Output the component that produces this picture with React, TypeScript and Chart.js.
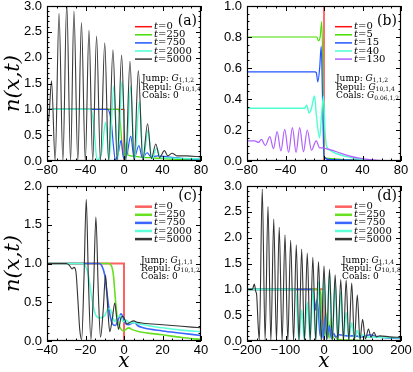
import React, { useEffect, useRef } from 'react';
import { Chart, registerables } from 'chart.js';
Chart.register(...registerables);

// ---------- data (x, n) ----------
const legendTop = ['0', '250', '750', '2000', '5000'];
const legendB = ['0', '5', '15', '40', '130'];

const aT0 = [[-80, 1], [0, 1], [0, 0], [80, 0]];
const aT250 = [[-80, 1], [-6, 1], [-4.5, 0.9], [-3, 0.55], [-1.5, 0.2], [0, 0.1], [1.5, 0.2], [2.8, 0.35], [4.2, 0.12], [7, 0.1], [12, 0.09], [20, 0.07], [30, 0.06], [45, 0.04], [60, 0.03], [80, 0.02]];
const aT750 = [[-80, 1], [-17, 1], [-14.5, 0.9], [-13, 0.72], [-11, 0.3], [-9, 0.02], [-6, 0.15], [-3, 0.4], [-0.5, 0.05], [3, 0.12], [7, 0.48], [10.5, 0.05], [15.5, 0.3], [19, 0.06], [24, 0.16], [28, 0.08], [35, 0.1], [45, 0.08], [60, 0.05], [80, 0.03]];
const aT2000 = [[-80, 1], [-34, 1], [-31, 0.6], [-28, 0.02], [-23.5, 0.15], [-19, 0.75], [-15.5, 0.02], [-10.5, 1.45], [-6.5, 0.02], [-2, 1.55], [2, 0.02], [7, 1.45], [11, 0.02], [16, 1.15], [20, 0.02], [25, 0.6], [29, 0.04], [34, 0.25], [38, 0.06], [45, 0.06], [60, 0.05], [80, 0.04]];
const aT5000 = [[-80, 0.72], [-78, 0.85], [-75.3, 1.55], [-71.5, 0], [-67.5, 2.86], [-63.5, 0], [-59.5, 3.05], [-55.5, 0], [-52, 2.9], [-48, 0], [-44.2, 2.68], [-40.2, 0], [-36.4, 2.53], [-32.5, 0], [-28.5, 2.42], [-24.5, 0], [-20, 2.29], [-16, 0], [-11.5, 2.15], [-7, 0], [-2.5, 2.05], [1.8, 0], [6.2, 1.93], [10.5, 0], [14.9, 1.75], [19.5, 0.02], [24.5, 0.72], [28.5, 0.05], [33, 0.33], [37, 0.07], [42, 0.2], [45.5, 0.1], [50, 0.15], [55, 0.1], [65, 0.1], [80, 0.08]];

const bT0 = [[-80, 1], [0, 1], [0, 0], [80, 0]];
const bT5 = [[-80, 0.8], [-7.5, 0.8], [-5.7, 0.775], [-4, 0.8], [-2.3, 0.9], [-1, 0.5], [0, 0.02], [80, 0]];
const bT15 = [[-80, 0.575], [-9.5, 0.575], [-8, 0.57], [-6.4, 0.51], [-4.5, 0.6], [-2.9, 0.74], [-1.5, 0.4], [0, 0.03], [5, 0.01], [80, 0]];
const bT40 = [[-80, 0.34], [-20, 0.34], [-18, 0.36], [-15.5, 0.31], [-13, 0.34], [-11, 0.4], [-9.8, 0.42], [-8, 0.3], [-4.6, 0.15], [-2.5, 0.3], [-0.5, 0.42], [1, 0.2], [2.5, 0.1], [6, 0.07], [12, 0.05], [22, 0.03], [30, 0.02], [40, 0.01], [60, 0], [80, 0]];
const bT130 = [[-80, 0.13], [-72, 0.13], [-68, 0.12], [-65, 0.14], [-61, 0.1], [-56.3, 0.157], [-52.5, 0.08], [-48.7, 0.19], [-44.8, 0.065], [-40.8, 0.205], [-36.8, 0.055], [-32.8, 0.215], [-29, 0.055], [-25.3, 0.215], [-21.3, 0.06], [-17.4, 0.2], [-13, 0.07], [-8.1, 0.13], [-4.5, 0.085], [-1, 0.085], [2, 0.08], [8, 0.07], [15, 0.055], [25, 0.035], [35, 0.02], [50, 0.008], [65, 0.002], [80, 0]];

const cT0 = [[-40, 1], [0, 1], [0, 0], [40, 0]];
const cT250 = [[-40, 1], [-8, 1], [-6.5, 0.97], [-5.5, 0.85], [-4.5, 0.55], [-3.5, 0.3], [-2.5, 0.2], [-1.5, 0.15], [0, 0.13], [1, 0.15], [2.5, 0.17], [4, 0.15], [8, 0.12], [20, 0.08], [30, 0.045], [40, 0.02]];
const cT750 = [[-40, 1], [-13, 1], [-11.5, 0.97], [-10, 0.85], [-9, 0.65], [-8, 0.45], [-7, 0.3], [-6, 0.22], [-4.5, 0.2], [-3, 0.28], [-1.5, 0.35], [0, 0.27], [1, 0.22], [2.5, 0.21], [4, 0.23], [5.5, 0.24], [7, 0.2], [10, 0.17], [20, 0.13], [30, 0.1], [40, 0.07]];
const cT2000 = [[-40, 1], [-22, 1], [-20, 0.97], [-18.5, 0.85], [-17, 0.6], [-15.5, 0.4], [-14, 0.31], [-12, 0.3], [-10, 0.33], [-8, 0.42], [-6.5, 0.38], [-5, 0.25], [-3.5, 0.3], [-2, 0.33], [-0.5, 0.25], [1, 0.27], [3, 0.23], [5, 0.24], [8, 0.22], [20, 0.17], [30, 0.14], [40, 0.12]];
const cT5000 = [[-40, 1], [-30, 1], [-28.5, 0.98], [-27, 0.93], [-26, 0.95], [-25, 0.9], [-24, 0.55], [-23, 0.15], [-22, 0.02], [-20.8, 0.8], [-19.6, 1.83], [-18.5, 0.8], [-17.2, 0.02], [-15.8, 0.7], [-14.6, 1.6], [-13.3, 0.6], [-12.2, 0.05], [-10.8, 0.4], [-9.6, 0.85], [-8.5, 0.45], [-7.4, 0.12], [-6, 0.3], [-4.8, 0.49], [-3.8, 0.3], [-2.8, 0.15], [-1.6, 0.3], [-0.5, 0.32], [0.5, 0.27], [1.5, 0.22], [3, 0.24], [5, 0.26], [7, 0.24], [10, 0.23], [20, 0.21], [30, 0.19], [40, 0.17]];

const dT0 = [[-200, 1], [0, 1], [0, 0], [200, 0]];
const dT250 = [[-200, 1], [-12, 1], [-8, 0.9], [-4, 0.3], [0, 0.05], [5, 0.3], [9, 0.55], [13, 0.05], [18, 0.45], [22, 0.05], [28, 0.1], [35, 0.03], [60, 0.02], [100, 0.01], [200, 0]];
const dT750 = [[-200, 1], [-30, 1], [-26, 0.85], [-22, 0.6], [-18, 0.8], [-14, 0.5], [-10, 0.1], [-6, 0.4], [-2, 0.05], [3, 0.5], [8, 0.05], [14, 0.3], [19, 0.05], [25, 0.15], [30, 0.08], [40, 0.12], [60, 0.1], [80, 0.1], [100, 0.08], [120, 0.12], [130, 0.1], [150, 0.07], [200, 0.05]];
const dT2000 = [[-200, 1], [-75, 1], [-71, 0.75], [-68, 0.3], [-65, 0.02], [-58, 0.6], [-51, 0.02], [-43, 0.75], [-36, 0.02], [-29, 1.0], [-21.5, 0.02], [-14, 1.15], [-7, 0.02], [0, 1.25], [7, 0.02], [14.5, 1.3], [21.5, 0.02], [29, 1.15], [36, 0.02], [43.5, 0.95], [50.5, 0.05], [57.5, 0.55], [64.5, 0.05], [72, 0.35], [79, 0.05], [86.5, 0.2], [93, 0.06], [100, 0.12], [110, 0.08], [150, 0.07], [200, 0.06]];
const dT5000 = [[-200, 1], [-186, 1], [-181, 1.1], [-177, 0.95], [-175, 0.9], [-171, 0.3], [-168, 0.02], [-160.4, 2.94], [-153, 0.02], [-145.5, 2.6], [-138, 0], [-130.5, 2.36], [-123.5, 0], [-116.3, 2.2], [-108.8, 0], [-101.3, 2.05], [-94, 0], [-86.6, 1.95], [-79, 0], [-72, 1.86], [-65, 0], [-58, 1.78], [-50.8, 0], [-43.5, 1.7], [-36, 0], [-29, 1.62], [-21.5, 0], [-14.3, 1.54], [-7, 0], [0, 1.45], [7, 0], [14.3, 1.39], [21.5, 0], [29, 1.28], [36, 0], [43.5, 1.19], [50.5, 0], [57.5, 1.18], [64.5, 0], [72, 1.12], [79, 0], [86.5, 0.89], [93.5, 0.02], [100.2, 0.42], [107.5, 0.04], [115.6, 0.23], [122, 0.07], [130, 0.17], [136, 0.08], [145, 0.1], [170, 0.08], [200, 0.07]];

const annA = [['Jump: ', '1,1,2'], ['Repul: ', '10,1,4'], ['Coals: 0', '']];
const annB = [['Jump: ', '1,1,2'], ['Repul: ', '10,1,4'], ['Coals: ', '0.06,1,2']];
const annC = [['Jump: ', '1,1,1'], ['Repul: ', '10,1,2'], ['Coals: 0', '']];
const annD = [['Jump: ', '1,1,4'], ['Repul: ', '10,1,8'], ['Coals: 0', '']];

// ---------- styling ----------
const SERIF = "'DejaVu Serif', serif";
const SANS = "'Liberation Sans', Arial, sans-serif";
const colTop = ['#ff1010', '#44dd00', '#2255ff', '#4dffd2', '#3a3a3a'];
const colB = ['#ff1010', '#44dd00', '#2255ff', '#4dffd2', '#b060ff'];
const colBot = ['#ff6060', '#66e020', '#3a66ff', '#5fffd8', '#333333'];

const drawRich = (ctx: any, x: number, y: number, parts: any[]) => {
  for (const p of parts) {
    ctx.font = p.f;
    ctx.fillText(p.t, x, y + (p.dy || 0));
    x += ctx.measureText(p.t).width;
  }
};

const decor = {
  id: 'decor',
  afterDatasetsDraw(chart: any, _a: any, o: any) {
    const { ctx, chartArea: ca, scales } = chart;
    const xs = scales.x, ys = scales.y;
    ctx.save();
    ctx.strokeStyle = '#000';
    ctx.lineWidth = 1;
    // inward ticks on all four sides
    const nx = Math.round((o.xMax - o.xMin) / o.xMinor);
    for (let i = 0; i <= nx; i++) {
      const v = o.xMin + i * o.xMinor;
      const major = Math.abs(v / o.xStep - Math.round(v / o.xStep)) < 1e-6;
      const len = major ? 5 : 2.5;
      const px = Math.round(xs.getPixelForValue(v)) + 0.5;
      ctx.beginPath();
      ctx.moveTo(px, ca.bottom); ctx.lineTo(px, ca.bottom - len);
      ctx.moveTo(px, ca.top); ctx.lineTo(px, ca.top + len);
      ctx.stroke();
    }
    const ny = Math.round((o.yMax - o.yMin) / o.yMinor);
    for (let i = 0; i <= ny; i++) {
      const v = o.yMin + i * o.yMinor;
      const major = Math.abs(v / o.yStep - Math.round(v / o.yStep)) < 1e-6;
      const len = major ? 5 : 2.5;
      const py = Math.round(ys.getPixelForValue(v)) + 0.5;
      ctx.beginPath();
      ctx.moveTo(ca.left, py); ctx.lineTo(ca.left + len, py);
      ctx.moveTo(ca.right, py); ctx.lineTo(ca.right - len, py);
      ctx.stroke();
    }
    ctx.lineWidth = 1.2;
    ctx.strokeRect(ca.left + 0.5, ca.top + 0.5, ca.right - ca.left - 1, ca.bottom - ca.top - 1);

    // legend
    ctx.fillStyle = '#000';
    ctx.textBaseline = 'middle';
    ctx.textAlign = 'left';
    o.labels.forEach((lab: string, i: number) => {
      const y = ca.top + 20.7 + i * 8.1;
      ctx.strokeStyle = o.colors[i];
      ctx.lineWidth = o.legendW;
      ctx.beginPath();
      ctx.moveTo(ca.left + 88, y); ctx.lineTo(ca.left + 105, y);
      ctx.stroke();
      drawRich(ctx, ca.left + 107, y, [
        { t: 't', f: `italic 10px ${SERIF}` },
        { t: '=' + lab, f: `10px ${SERIF}` },
      ]);
    });
    // annotation
    o.ann.forEach((row: string[], i: number) => {
      const y = ca.top + o.annY[i];
      const parts: any[] = [{ t: row[0], f: `9px ${SERIF}` }];
      if (row[1]) {
        parts.push({ t: 'G', f: `italic 9px ${SERIF}` });
        parts.push({ t: row[1], f: `6px ${SERIF}`, dy: 2 });
      }
      drawRich(ctx, ca.left + o.annX, y, parts);
    });
    // panel tag
    ctx.font = `14px ${SERIF}`;
    ctx.textAlign = 'right';
    ctx.fillText(o.tag, ca.right - 4, ca.top + o.tagY);
    ctx.restore();
  },
};

const fmtX = (v: number) => (v < 0 ? '\u2212' + Math.abs(v) : String(v));

const panels = [
  { key: 'a', left: 0, top: 0, w: 212, h: 180, yW: 47, padR: 11, xH: 19, xMin: -80, xMax: 80, xStep: 40, xMinor: 10, yMin: 0, yMax: 3, yStep: 0.5, yMinor: 0.1,
    series: [aT0, aT250, aT750, aT2000, aT5000], colors: colTop, widths: [1.2, 1.2, 1.2, 1.4, 1.1], legendW: 1.5, labels: legendTop, ann: annA, annX: 95, annY: [72.5, 81.3, 90], tag: '(a)', tagY: 15, yTitle: true, xTitle: false },
  { key: 'b', left: 206, top: 0, w: 207, h: 180, yW: 41, padR: 12, xH: 19, xMin: -80, xMax: 80, xStep: 40, xMinor: 10, yMin: 0, yMax: 1, yStep: 0.2, yMinor: 0.05,
    series: [bT0, bT5, bT15, bT40, bT130], colors: colB, widths: [1.2, 1.2, 1.2, 1.4, 1.2], legendW: 1.5, labels: legendB, ann: annB, annX: 89, annY: [72.5, 81.3, 90], tag: '(b)', tagY: 15, yTitle: false, xTitle: false },
  { key: 'c', left: 0, top: 180, w: 212, h: 192, yW: 47, padR: 11, xH: 31, xMin: -40, xMax: 40, xStep: 20, xMinor: 5, yMin: 0, yMax: 2, yStep: 0.5, yMinor: 0.1,
    series: [cT0, cT250, cT750, cT2000, cT5000], colors: colBot, widths: [2, 1.6, 1.6, 1.6, 1.1], legendW: 2.5, labels: legendTop, ann: annC, annX: 94, annY: [74.5, 82.5, 90.7], tag: '(c)', tagY: 10, yTitle: true, xTitle: true },
  { key: 'd', left: 206, top: 180, w: 207, h: 192, yW: 41, padR: 12, xH: 31, xMin: -200, xMax: 200, xStep: 100, xMinor: 25, yMin: 0, yMax: 3, yStep: 0.5, yMinor: 0.1,
    series: [dT0, dT250, dT750, dT2000, dT5000], colors: colBot, widths: [2, 1.6, 1.6, 1.6, 1.1], legendW: 2.5, labels: legendTop, ann: annD, annX: 95, annY: [74.5, 82.5, 90.7], tag: '(d)', tagY: 10, yTitle: false, xTitle: true },
];

function Panel({ p }: { p: any }) {
  const ref = useRef<HTMLCanvasElement>(null);
  useEffect(() => {
    const canvas = ref.current!;
    const datasets = p.series.map((s: number[][], i: number) => ({
      data: s.map(([x, y]) => ({ x, y })),
      borderColor: p.colors[i],
      borderWidth: p.widths[i],
      pointRadius: 0,
      fill: false,
      order: 5 - i,
      tension: 0,
      cubicInterpolationMode: i === 0 ? 'default' : 'monotone',
    }));
    const chart = new Chart(canvas, {
      type: 'line',
      data: { datasets },
      plugins: [decor],
      options: {
        animation: false,
        responsive: false,
        events: [],
        layout: { padding: { left: 0, top: 6, right: p.padR, bottom: 0 } },
        plugins: {
          legend: { display: false },
          tooltip: { enabled: false },
          decor: p,
        } as any,
        scales: {
          x: {
            type: 'linear', min: p.xMin, max: p.xMax,
            grid: { display: false, drawTicks: false }, border: { display: false },
            ticks: { stepSize: p.xStep, autoSkip: false, maxRotation: 0, padding: 2, color: '#000',
              font: { family: SANS, size: 13 }, callback: (v: any) => fmtX(Number(v)) },
            title: { display: p.xTitle, text: 'x', color: '#000', font: { family: SERIF, size: 20, style: 'italic', lineHeight: 1 }, padding: { top: 0, bottom: 0 } },
            afterFit: (s: any) => { s.height = p.xH; s.paddingLeft = 0; s.paddingRight = 0; },
          },
          y: {
            type: 'linear', min: p.yMin, max: p.yMax,
            grid: { display: false, drawTicks: false }, border: { display: false },
            ticks: { stepSize: p.yStep, autoSkip: false, padding: 5, color: '#000',
              font: { family: SANS, size: 13 }, callback: (v: any) => Number(v).toFixed(1) },
            title: { display: p.yTitle, text: 'n(x,t)', color: '#000', font: { family: SERIF, size: 21, style: 'italic', lineHeight: 1 }, padding: { top: 3, bottom: 0 } },
            afterFit: (s: any) => { s.width = p.yW; s.paddingTop = 0; s.paddingBottom = 0; },
          },
        },
      } as any,
    });
    return () => chart.destroy();
  }, []);
  return (
    <canvas ref={ref} width={p.w} height={p.h}
      style={{ position: 'absolute', left: p.left, top: p.top, width: p.w, height: p.h }} />
  );
}

export default function App() {
  return (
    <div style={{ position: 'absolute', left: 0, top: 0, width: 413, height: 372, background: '#fff' }}>
      {panels.map((p) => <Panel key={p.key} p={p} />)}
    </div>
  );
}
